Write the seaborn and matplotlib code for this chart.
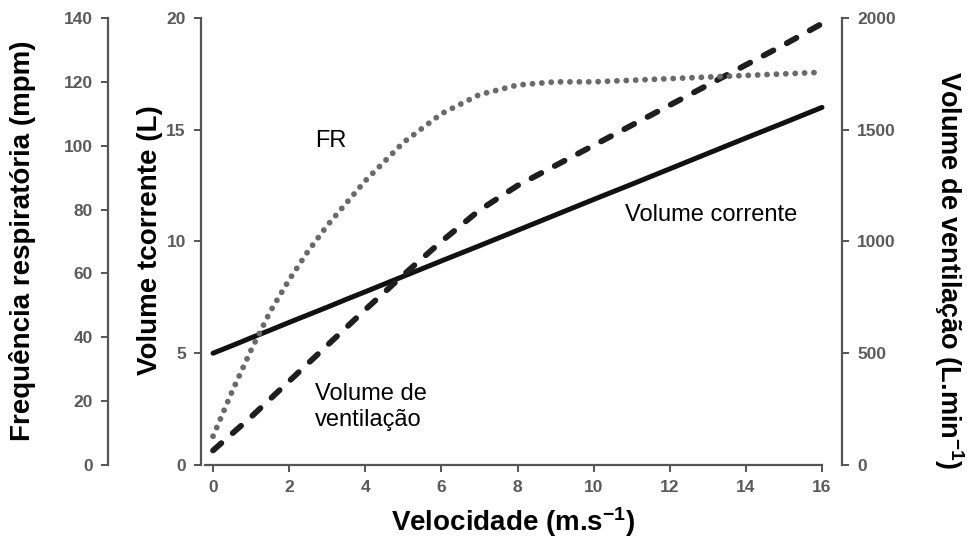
import matplotlib
matplotlib.use("Agg")
import matplotlib.pyplot as plt
import seaborn as sns
import pandas as pd

# Velocity (m/s) sample points
velocidade = [0, 0.5, 1, 1.5, 2, 2.5, 3, 3.5, 4, 5, 6, 7, 8, 9, 10, 11, 12, 13, 14, 15, 16]

# Respiratory rate (breaths per minute)
fr = [9, 23, 36, 48, 58, 67, 75, 82, 89, 101, 110, 116, 119, 120, 120, 120.5, 121, 121.5, 122, 122.5, 123]

# Tidal volume (L)
vol_corrente = [5.0, 5.34, 5.69, 6.03, 6.38, 6.72, 7.06, 7.41, 7.75, 8.44, 9.13, 9.81, 10.5,
                11.19, 11.88, 12.56, 13.25, 13.94, 14.63, 15.31, 16.0]

# Ventilation (L/min)
vol_ventilacao = [65, 140, 215, 295, 375, 455, 535, 615, 695, 850, 1000, 1140, 1250, 1340,
                  1430, 1520, 1610, 1700, 1790, 1880, 1975]

x_ticks = [0, 2, 4, 6, 8, 10, 12, 14, 16]
fr_ticks = [0, 20, 40, 60, 80, 100, 120, 140]
vc_ticks = [0, 5, 10, 15, 20]
ve_ticks = [0, 500, 1000, 1500, 2000]

df = pd.DataFrame({"v": velocidade, "fr": fr, "vc": vol_corrente, "ve": vol_ventilacao})

sns.set_theme(style="white")
plt.rcParams["font.family"] = ["Liberation Sans", "DejaVu Sans"]
plt.rcParams["mathtext.fontset"] = "custom"
plt.rcParams["mathtext.rm"] = "Liberation Sans"
plt.rcParams["mathtext.bf"] = "Liberation Sans:bold"

spine_col = "#555555"
tick_col = "#5a5a5a"

fig = plt.figure(figsize=(9.67, 5.57), dpi=100)
ax = fig.add_axes([0.2079, 0.1652, 0.6628, 0.8025])
ax_ve = ax.twinx()
ax_fr = ax.twinx()

# Tidal volume (solid)
sns.lineplot(data=df, x="v", y="vc", ax=ax, color="#111111", linewidth=3.6,
             solid_capstyle="round")
# Ventilation (dashed)
sns.lineplot(data=df, x="v", y="ve", ax=ax_ve, color="#1e1e1e", linewidth=4.2)
ax_ve.lines[0].set_dashes((1.9, 2.6))
ax_ve.lines[0].set_dash_capstyle("round")
# Respiratory rate (dotted)
sns.lineplot(data=df, x="v", y="fr", ax=ax_fr, color="#6a6a6a", linewidth=4.2)
ax_fr.lines[0].set_dashes((0.01, 1.6))
ax_fr.lines[0].set_dash_capstyle("round")

ax.set_xlim(-0.315, 16.525)
ax.set_ylim(0, 20)
ax_ve.set_ylim(0, 2000)
ax_fr.set_ylim(0, 140)

for a in (ax, ax_ve, ax_fr):
    a.set_xlabel("")
    a.set_ylabel("")
    for s in a.spines.values():
        s.set_visible(False)
        s.set_color(spine_col)
        s.set_linewidth(1.6)
    a.tick_params(axis="both", which="both", direction="out", length=5,
                  width=1.4, color=spine_col, pad=6)

ax.spines["left"].set_visible(True)
ax.spines["left"].set_bounds(0, 20)
ax.spines["bottom"].set_visible(True)
ax.spines["bottom"].set_bounds(-0.2, 16)
ax.tick_params(bottom=True, left=True)

ax_ve.spines["right"].set_visible(True)
ax_ve.tick_params(right=True, left=False, bottom=False)

ax_fr.yaxis.set_ticks_position("left")
ax_fr.yaxis.set_label_position("left")
ax_fr.spines["left"].set_visible(True)
ax_fr.spines["left"].set_position(("axes", -0.145))
ax_fr.tick_params(left=True, right=False, bottom=False, labelleft=True, labelright=False)

tick_font = dict(fontsize=12.5, fontweight="bold", color=tick_col)

ax.set_xticks(x_ticks)
ax.set_xticklabels([str(t) for t in x_ticks], **tick_font)
ax.set_yticks(vc_ticks)
ax.set_yticklabels([str(t) for t in vc_ticks], **tick_font)
ax_ve.set_yticks(ve_ticks)
ax_ve.set_yticklabels([str(t) for t in ve_ticks], **tick_font)
ax_fr.set_yticks(fr_ticks)
ax_fr.set_yticklabels([str(t) for t in fr_ticks], **tick_font)

label_font = dict(fontsize=20, fontweight="bold", color="black")
fig.text(0.023, 0.5685, "Frequência respiratória (mpm)", rotation=90,
         ha="center", va="center", **label_font)
fig.text(0.155, 0.5685, "Volume tcorrente (L)", rotation=90,
         ha="center", va="center", **label_font)
fig.text(0.981, 0.515, r"Volume de ventilação (L.min$\mathbf{^{-1}}$)", rotation=270,
         ha="center", va="center", fontsize=19.5, fontweight="bold", color="black")
fig.text(0.531, 0.063, r"Velocidade (m.s$\mathbf{^{-1}}$)",
         ha="center", va="center", **label_font)

ann_font = dict(fontsize=17, color="black")
ax.text(3.1, 14.5, "FR", ha="center", va="center", **ann_font)
ax.text(10.83, 11.17, "Volume corrente", ha="left", va="center", **ann_font)
ax.text(2.68, 2.6, "Volume de\nventilação", ha="left", va="center",
        linespacing=1.2, **ann_font)

fig.savefig("out.png", dpi=100, facecolor="white")
